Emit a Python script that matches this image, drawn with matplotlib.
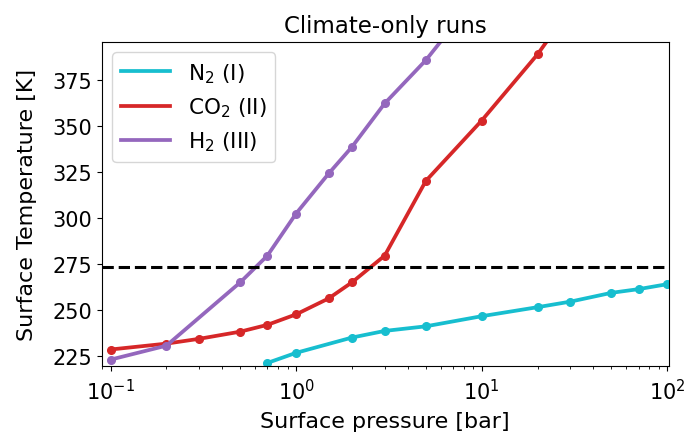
import matplotlib
matplotlib.use("Agg")
import matplotlib.pyplot as plt
from matplotlib.lines import Line2D

# pressures [bar] and surface temperatures [K]
p_n2 = [0.7, 1.0, 2.0, 3.0, 5.0, 10, 20, 30, 50, 70, 100]
t_n2 = [221.0, 226.5, 234.8, 238.4, 240.9, 246.4, 251.3, 254.3, 259.1, 261.1, 263.8]

p_co2 = [0.1, 0.2, 0.3, 0.5, 0.7, 1.0, 1.5, 2.0, 3.0, 5.0, 10, 20, 30]
t_co2 = [228.3, 231.5, 234.1, 238.0, 241.7, 247.4, 256.1, 264.8, 279.3, 319.9, 352.7, 388.7, 413.5]

p_h2 = [0.1, 0.2, 0.5, 0.7, 1.0, 1.5, 2.0, 3.0, 5.0, 7.0]
t_h2 = [222.8, 230.4, 264.8, 279.3, 302.2, 324.0, 338.4, 362.0, 385.5, 404.0]

t_freeze = 273.15

labels = ["N$_2$ (I)", "CO$_2$ (II)", "H$_2$ (III)"]
colors = ["tab:cyan", "tab:red", "tab:purple"]

fig = plt.figure(figsize=(6.86, 4.35), dpi=100)
ax = fig.add_axes([0.148, 0.157, 0.827, 0.745])

for p, t, c in zip([p_n2, p_co2, p_h2], [t_n2, t_co2, t_h2], colors):
    ax.plot(p, t, color=c, marker="o", markersize=5.5, linewidth=2.7)
ax.axhline(t_freeze, color="black", linestyle="--", linewidth=2.2)

ax.set_xscale("log")
ax.set_xlim(0.0894, 102)
ax.set_ylim(219.5, 395.6)
ax.set_yticks([225, 250, 275, 300, 325, 350, 375])
ax.tick_params(labelsize=15)
ax.tick_params(axis="x", pad=5)

ax.set_title("Climate-only runs", fontsize=16.5, pad=7)
ax.set_xlabel("Surface pressure [bar]", fontsize=16, labelpad=6)
ax.set_ylabel("Surface Temperature [K]", fontsize=16, labelpad=11)

handles = [Line2D([], [], color=c, linewidth=2.7) for c in colors]
ax.legend(handles, labels, loc="upper left", fontsize=15.5, handlelength=2.3)

fig.savefig("out.png", dpi=100)
